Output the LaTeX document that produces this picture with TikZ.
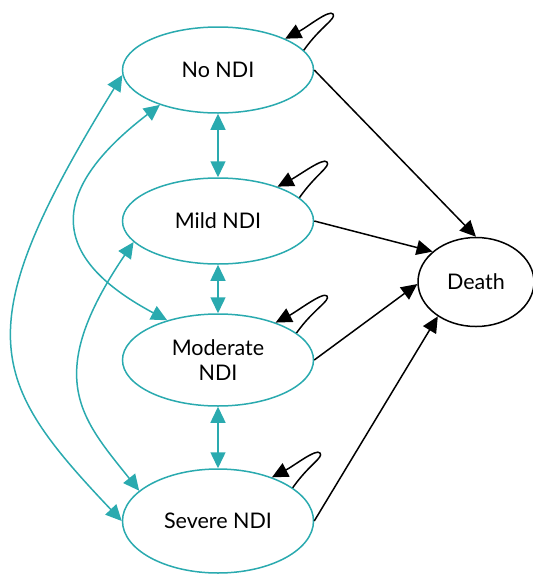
\documentclass[tikz,border=0pt]{standalone}
\usepackage{fontspec}
\setmainfont{Lato}
\usetikzlibrary{shapes.geometric,arrows.meta}
\definecolor{teal}{RGB}{42,170,175}
\tikzset{
  x=1pt,y=-1pt,
  state/.style={ellipse,draw=teal,line width=1.5pt,inner sep=0pt,font=\fontsize{21.5}{25}\selectfont,align=center},
  dstate/.style={ellipse,draw=black,line width=1.5pt,inner sep=0pt,font=\fontsize{21.5}{25}\selectfont},
  tarr/.style={draw=teal,line width=1.5pt,{Triangle[length=16pt,width=15pt]}-{Triangle[length=16pt,width=15pt]}},
  barr/.style={draw=black,line width=1.5pt,-{Triangle[length=16pt,width=15pt]}},
  selfloop/.style={barr,line join=round},
}
\begin{document}
\begin{tikzpicture}
\useasboundingbox (0,0) rectangle (533,574);
\node[state,minimum width=191pt,minimum height=86pt] (no) at (218,70) {No NDI};
\node[state,minimum width=191pt,minimum height=86pt] (mild) at (218,221) {Mild NDI};
\node[state,minimum width=191pt,minimum height=92pt] (mod) at (218,360) {Moderate\\NDI};
\node[state,minimum width=191pt,minimum height=104pt] (sev) at (218,521) {Severe NDI};
\node[dstate,minimum width=116pt,minimum height=89pt] (death) at (476,282) {Death};
% loop apexes
\coordinate (noL) at (333,14);
\coordinate (mildL) at (327,162);
\coordinate (modL) at (327,296);
\coordinate (sevL) at (320,453);
% vertical double arrows
\draw[tarr] (no.south) -- (mild.north);
\draw[tarr] (mild.south) -- (mod.north);
\draw[tarr] (mod.south) -- (sev.north);
% curved double arrows
\draw[tarr] (no.211) .. controls (24,209) and (75,271) .. (mod.142);
\draw[tarr] (no.183) .. controls (-35,330) and (-12,380) .. (sev.180);
\draw[tarr] (mild.194) .. controls (42,377) and (81,418) .. (sev.159);
% self loops
\draw[selfloop] (no.13) .. controls +(17,-24) and +(3.6,4.8) .. (noL) .. controls +(-3.6,-4.8) and +(22,-11.5) .. (no.25);
\draw[selfloop] (mild.16) .. controls +(17,-24) and +(3.6,4.8) .. (mildL) .. controls +(-3.6,-4.8) and +(22,-11.5) .. (mild.30);
\draw[selfloop] (mod.19) .. controls +(17,-24) and +(3.6,4.8) .. (modL) .. controls +(-3.6,-4.8) and +(22,-11.5) .. (mod.33);
\draw[selfloop] (sev.24) .. controls +(17,-24) and +(3.6,4.8) .. (sevL) .. controls +(-3.6,-4.8) and +(22,-11.5) .. (sev.39);
% to death
\draw[barr] (no.east) -- (death.north);
\draw[barr] (mild.east) -- (death.145);
\draw[barr] (mod.east) -- (death.182);
\draw[barr] (sev.east) -- (death.222);
\end{tikzpicture}
\end{document}
